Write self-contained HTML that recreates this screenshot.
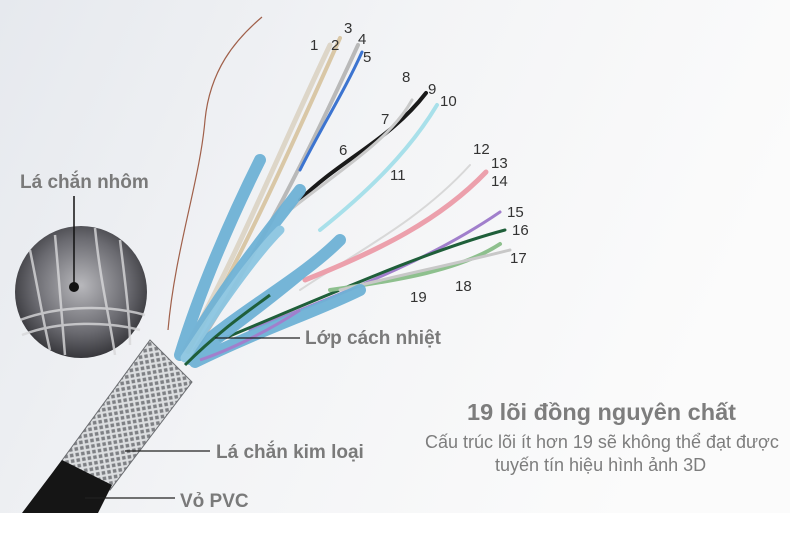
<!DOCTYPE html>
<html><head><meta charset="utf-8"><style>
html,body{margin:0;padding:0;background:#fff}
svg{display:block}
text{font-family:"Liberation Sans",sans-serif}
</style></head><body>
<svg width="790" height="544" viewBox="0 0 790 544">
<defs>
<linearGradient id="bg" x1="0" y1="0" x2="1" y2="0.3">
<stop offset="0" stop-color="#e6e9ee"/><stop offset="0.5" stop-color="#f3f4f6"/><stop offset="1" stop-color="#fbfbfb"/>
</linearGradient>
<radialGradient id="cg" cx="0.5" cy="0.45" r="0.6">
<stop offset="0" stop-color="#b8b8bc"/><stop offset="0.6" stop-color="#6a6a70"/><stop offset="1" stop-color="#2a2a2e"/>
</radialGradient>
<pattern id="braid" width="8" height="8" patternUnits="userSpaceOnUse" patternTransform="rotate(35)">
<rect width="8" height="8" fill="#7e8084"/>
<path d="M0 0L8 8M8 0L0 8" stroke="#dcdee0" stroke-width="2.2"/>
</pattern>
</defs>
<rect width="790" height="513" fill="url(#bg)"/>
<rect y="513" width="790" height="31" fill="#fff"/>

<path d="M168 330 C175 250 200 180 205 120 C210 70 235 40 262 17" fill="none" stroke="#a0604a" stroke-width="1.2"/>

<g fill="none" stroke-linecap="round">
<path d="M185 350 C240 250 280 150 330 45" stroke="#ddd6c8" stroke-width="5"/>
<path d="M188 352 C245 250 290 150 340 38" stroke="#d9c7a6" stroke-width="4"/>
<path d="M195 350 C260 250 310 150 358 45" stroke="#b9b9b9" stroke-width="4"/>
<path d="M300 170 C320 130 345 90 362 52" stroke="#3c74d0" stroke-width="3"/>
<path d="M300 200 C340 160 390 140 426 93" stroke="#1a1a1a" stroke-width="4"/>
<path d="M290 210 C340 170 390 140 412 100" stroke="#c9c9c9" stroke-width="3"/>
<path d="M320 230 C370 190 410 150 437 105" stroke="#a8e0ea" stroke-width="4"/>
<path d="M300 290 C360 250 420 220 470 165" stroke="#d8d8d8" stroke-width="2"/>
<path d="M305 280 C380 250 440 220 486 172" stroke="#eca0ac" stroke-width="5"/>
<path d="M250 330 C350 290 430 260 500 212" stroke="#a17fcc" stroke-width="3"/>
<path d="M220 340 C340 290 430 250 505 230" stroke="#1f5f3a" stroke-width="3"/>
<path d="M330 290 C400 280 460 270 500 244" stroke="#8ec08e" stroke-width="4"/>
<path d="M340 290 C400 275 450 265 510 250" stroke="#c8c8c8" stroke-width="3"/>
</g>
<g fill="none" stroke="#6fb2d6" stroke-linecap="round" opacity="0.95">
<path d="M180 355 C200 290 230 220 260 160" stroke-width="12"/>
<path d="M185 355 C220 290 270 230 300 190" stroke-width="12"/>
<path d="M190 355 C240 310 300 280 340 240" stroke-width="12"/>
<path d="M190 360 C230 330 270 300 300 275" stroke-width="10"/>
<path d="M195 362 C260 330 320 310 360 290" stroke-width="12"/>
<path d="M185 358 C210 320 250 260 280 230" stroke-width="9" stroke="#8cc6e2"/>
</g>
<path d="M200 360 C230 350 270 330 300 310" fill="none" stroke="#a17fcc" stroke-width="3"/>
<path d="M185 365 C220 330 250 310 270 295" fill="none" stroke="#1f5f3a" stroke-width="3"/>

<!-- braid -->
<path d="M55 470 L150 340 L192 382 L110 490 Z" fill="url(#braid)" stroke="#6c6e72" stroke-width="1"/>
<!-- PVC jacket -->
<path d="M22 513 L62 460 L112 485 L98 513 Z" fill="#151515"/>

<circle cx="81" cy="292" r="66" fill="url(#cg)"/>
<g stroke="#d8d8da" stroke-width="2.5" fill="none" opacity="0.8">
<path d="M30 250 C40 300 45 330 50 350"/><path d="M55 235 C60 290 62 320 65 355"/>
<path d="M95 228 C100 280 110 320 115 355"/><path d="M120 240 C125 280 130 320 130 345"/>
<path d="M20 320 C60 305 110 305 145 315"/><path d="M22 335 C60 320 110 322 140 330"/>
</g>
<line x1="74" y1="196" x2="74" y2="285" stroke="#111" stroke-width="1.5"/>
<circle cx="74" cy="287" r="5" fill="#111"/>

<line x1="215" y1="338" x2="300" y2="338" stroke="#222" stroke-width="1.2"/>
<line x1="125" y1="451" x2="210" y2="451" stroke="#222" stroke-width="1.2"/>
<line x1="85" y1="498" x2="175" y2="498" stroke="#222" stroke-width="1.2"/>

<g font-weight="bold" fill="#7a7a7a" font-size="19">
<text x="20" y="188">Lá chắn nhôm</text>
<text x="305" y="344">Lớp cách nhiệt</text>
<text x="216" y="458">Lá chắn kim loại</text>
<text x="180" y="507">Vỏ PVC</text>
</g>
<text x="467" y="420" font-size="23.5" font-weight="bold" fill="#7d7d7d">19 lõi đồng nguyên chất</text>
<text x="425" y="448" font-size="18" fill="#7d7d7d">Cấu trúc lõi ít hơn 19 sẽ không thể đạt được</text>
<text x="495" y="471" font-size="18" fill="#7d7d7d">tuyến tín hiệu hình ảnh 3D</text>

<g font-size="15" fill="#333">
<text x="310" y="50">1</text><text x="331" y="50">2</text><text x="344" y="33">3</text>
<text x="358" y="44">4</text><text x="363" y="62">5</text>
<text x="339" y="155">6</text><text x="381" y="124">7</text><text x="402" y="82">8</text>
<text x="428" y="94">9</text><text x="440" y="106">10</text><text x="390" y="180">11</text>
<text x="473" y="154">12</text><text x="491" y="168">13</text><text x="491" y="186">14</text>
<text x="507" y="217">15</text><text x="512" y="235">16</text><text x="510" y="263">17</text>
<text x="455" y="291">18</text><text x="410" y="302">19</text>
</g>
</svg>
</body></html>
